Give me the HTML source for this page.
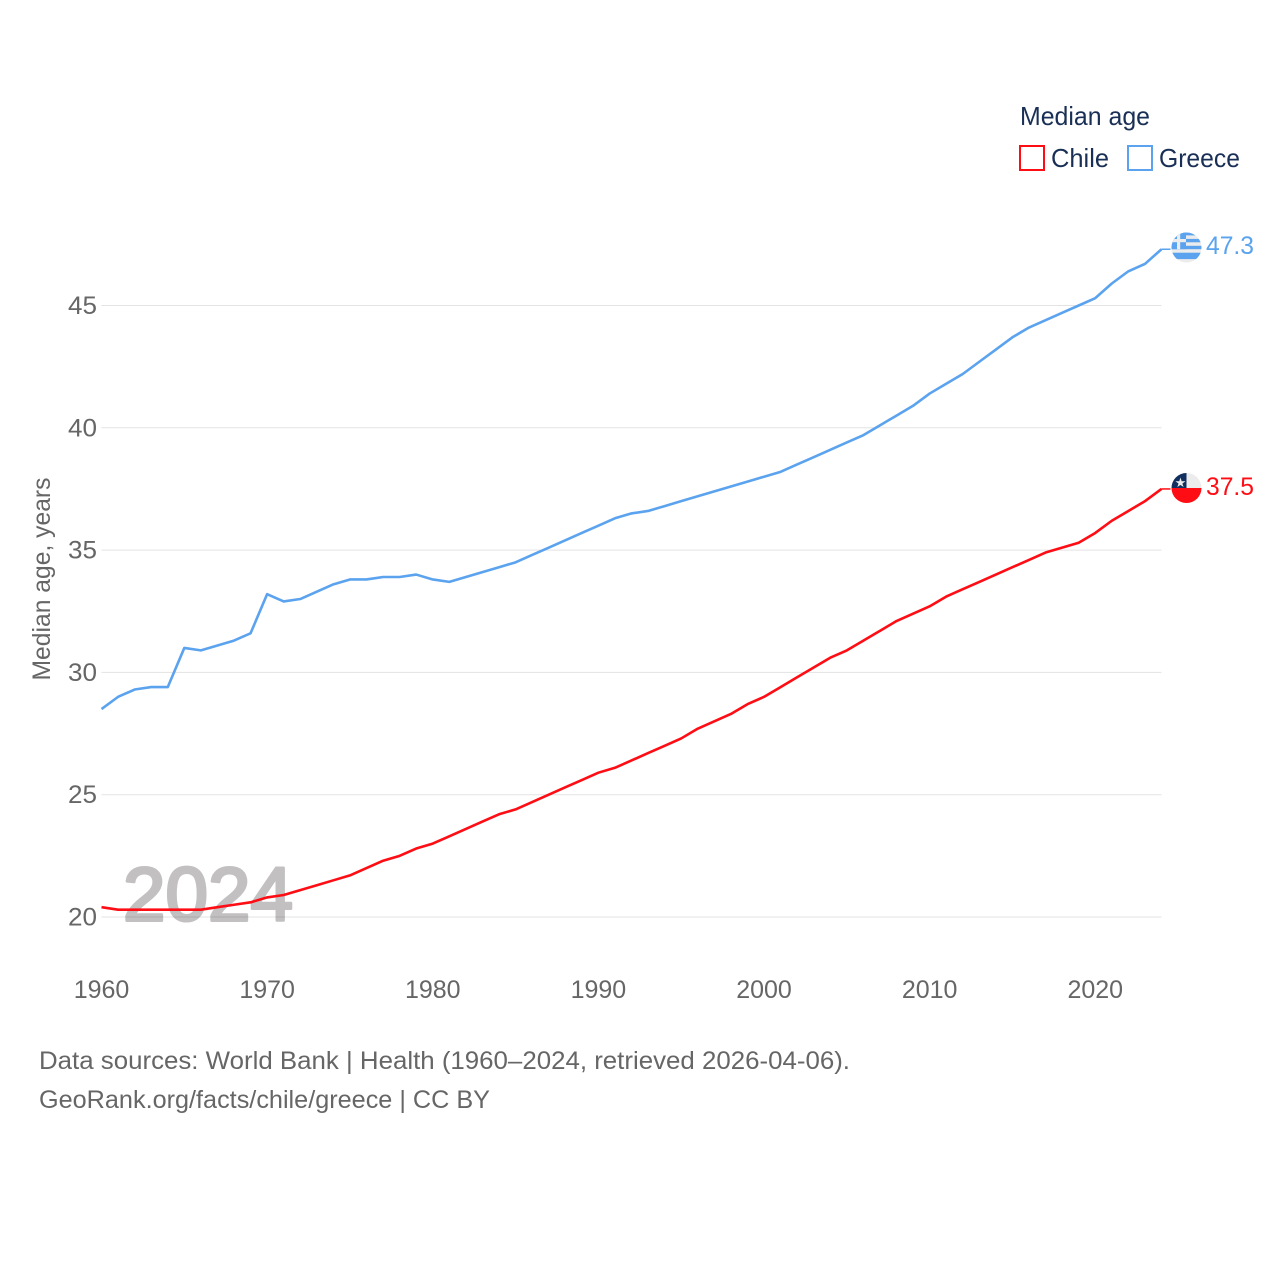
<!DOCTYPE html>
<html lang="en">
<head>
<meta charset="utf-8">
<title>Median age: Chile and Greece</title>
<style>
html,body{margin:0;padding:0;background:#fff;}
svg{display:block;}
text{font-family:"Liberation Sans",sans-serif;}
</style>
</head>
<body>
<svg id="chart" xmlns="http://www.w3.org/2000/svg" width="1280" height="1280" viewBox="0 0 1280 1280">
  <defs>
    <clipPath id="greece-clip"><circle cx="1186.5" cy="247.5" r="15"/></clipPath>
    <clipPath id="chile-clip"><circle cx="1186.5" cy="488" r="15"/></clipPath>
  </defs>
  <text x="123" y="920.5" font-size="76" fill="#c2c0c0" stroke="#c2c0c0" stroke-width="3" stroke-linejoin="round" textLength="170" lengthAdjust="spacingAndGlyphs">2024</text>
  <g id="grid"></g>
  <g id="y-ticks"></g>
  <g id="x-ticks"></g>
  <text transform="translate(50,579) rotate(-90)" text-anchor="middle" font-size="25" fill="#666" textLength="203" lengthAdjust="spacingAndGlyphs">Median age, years</text>
  <g id="series"></g>

  <g>
    <text x="1020" y="125" font-size="26" fill="#1a2f55" textLength="130" lengthAdjust="spacingAndGlyphs">Median age</text>
    <rect x="1020" y="146" width="24" height="24" fill="none" stroke="#ff0d14" stroke-width="2"/>
    <text x="1051" y="167" font-size="26" fill="#1a2f55" textLength="58" lengthAdjust="spacingAndGlyphs">Chile</text>
    <rect x="1128" y="146" width="24" height="24" fill="none" stroke="#5ba3ee" stroke-width="2"/>
    <text x="1159" y="167" font-size="26" fill="#1a2f55" textLength="81" lengthAdjust="spacingAndGlyphs">Greece</text>
  </g>

  <g clip-path="url(#greece-clip)">
    <rect x="1171" y="232" width="31" height="31" fill="#ececec"/>
    <rect x="1171" y="232" width="31" height="3.4" fill="#5ba3ee"/>
    <rect x="1171" y="238.9" width="31" height="3.4" fill="#5ba3ee"/>
    <rect x="1171" y="245.8" width="31" height="3.4" fill="#5ba3ee"/>
    <rect x="1171" y="252.7" width="31" height="6.4" fill="#5ba3ee"/>
    <rect x="1171" y="232" width="15" height="17.2" fill="#5ba3ee"/>
    <rect x="1171" y="239" width="15" height="3.2" fill="#ececec"/>
    <rect x="1177" y="232" width="3.2" height="17.2" fill="#ececec"/>
  </g>
  <text x="1206" y="254" font-size="25" fill="#5ba3ee" textLength="48" lengthAdjust="spacingAndGlyphs">47.3</text>

  <g clip-path="url(#chile-clip)">
    <rect x="1171" y="473" width="31" height="15" fill="#ececec"/>
    <rect x="1171" y="473" width="15.5" height="15" fill="#12305f"/>
    <rect x="1171" y="488" width="31" height="15" fill="#ff0d14"/>
    <text x="1180.5" y="487" text-anchor="middle" font-size="13" fill="#ececec" font-family="DejaVu Sans, sans-serif">★</text>
  </g>
  <text x="1206" y="495" font-size="25" fill="#ff0d14" textLength="48" lengthAdjust="spacingAndGlyphs">37.5</text>

  <text x="39" y="1069" font-size="25" fill="#666" textLength="811" lengthAdjust="spacingAndGlyphs">Data sources: World Bank | Health (1960–2024, retrieved 2026-04-06).</text>
  <text x="39" y="1108" font-size="25" fill="#666" textLength="451" lengthAdjust="spacingAndGlyphs">GeoRank.org/facts/chile/greece | CC BY</text>
</svg>
<script>
const startYear = 1960;
const endYear = 2024;
const yTickValues = [20, 25, 30, 35, 40, 45];
const xTickValues = [1960, 1970, 1980, 1990, 2000, 2010, 2020];
const chileValues = [20.4,20.3,20.3,20.3,20.3,20.3,20.3,20.4,20.5,20.6,20.8,20.9,21.1,21.3,21.5,21.7,22.0,22.3,22.5,22.8,23.0,23.3,23.6,23.9,24.2,24.4,24.7,25.0,25.3,25.6,25.9,26.1,26.4,26.7,27.0,27.3,27.7,28.0,28.3,28.7,29.0,29.4,29.8,30.2,30.6,30.9,31.3,31.7,32.1,32.4,32.7,33.1,33.4,33.7,34.0,34.3,34.6,34.9,35.1,35.3,35.7,36.2,36.6,37.0,37.5];
const greeceValues = [28.5,29.0,29.3,29.4,29.4,31.0,30.9,31.1,31.3,31.6,33.2,32.9,33.0,33.3,33.6,33.8,33.8,33.9,33.9,34.0,33.8,33.7,33.9,34.1,34.3,34.5,34.8,35.1,35.4,35.7,36.0,36.3,36.5,36.6,36.8,37.0,37.2,37.4,37.6,37.8,38.0,38.2,38.5,38.8,39.1,39.4,39.7,40.1,40.5,40.9,41.4,41.8,42.2,42.7,43.2,43.7,44.1,44.4,44.7,45.0,45.3,45.9,46.4,46.7,47.3];

const NS = 'http://www.w3.org/2000/svg';
const plotLeft = 101.5, plotRight = 1161.5;
function xScale(year) { return plotLeft + (year - startYear) * (plotRight - plotLeft) / (endYear - startYear); }
function yScale(v) { return 917 - (v - 20) * 24.46; }

const grid = document.getElementById('grid');
const yTicks = document.getElementById('y-ticks');
const xTicks = document.getElementById('x-ticks');
const series = document.getElementById('series');

yTickValues.forEach(function (v) {
  const line = document.createElementNS(NS, 'line');
  
  
  line.setAttribute('x1', plotLeft);
  line.setAttribute('x2', plotRight);
  line.setAttribute('y1', yScale(v));
  line.setAttribute('y2', yScale(v));
  line.setAttribute('stroke', '#000');
  line.setAttribute('stroke-opacity', '0.11');
  line.setAttribute('stroke-width', '1');
  grid.appendChild(line);

  const label = document.createElementNS(NS, 'text');
  
  
  label.setAttribute('x', 68);
  label.setAttribute('y', yScale(v) + 8.5);
  label.setAttribute('font-size', '25');
  label.setAttribute('fill', '#666');
  label.setAttribute('textLength', '29');
  label.setAttribute('lengthAdjust', 'spacingAndGlyphs');
  label.textContent = v;
  yTicks.appendChild(label);
});

xTickValues.forEach(function (year) {
  const label = document.createElementNS(NS, 'text');
  
  
  label.setAttribute('x', xScale(year));
  label.setAttribute('y', 998);
  label.setAttribute('text-anchor', 'middle');
  label.setAttribute('font-size', '25');
  label.setAttribute('fill', '#666');
  label.textContent = year;
  xTicks.appendChild(label);
});

function drawSeries(values, color, name) {
  const pts = values.map(function (v, i) {
    return xScale(startYear + i).toFixed(2) + ',' + yScale(v).toFixed(2);
  });
  const last = values[values.length - 1];
  const connector = document.createElementNS(NS, 'line');
  
  
  connector.setAttribute('x1', xScale(endYear));
  connector.setAttribute('x2', xScale(endYear) + 9);
  connector.setAttribute('y1', yScale(last));
  connector.setAttribute('y2', yScale(last));
  connector.setAttribute('stroke', color);
  connector.setAttribute('stroke-width', '1.5');
  series.appendChild(connector);

  const line = document.createElementNS(NS, 'polyline');
  
  
  line.setAttribute('points', pts.join(' '));
  line.setAttribute('fill', 'none');
  line.setAttribute('stroke', color);
  line.setAttribute('stroke-width', '2.6');
  line.setAttribute('stroke-linejoin', 'round');
  series.appendChild(line);
}
drawSeries(greeceValues, '#5ba3ee', 'greece-line');
drawSeries(chileValues, '#ff0d14', 'chile-line');
</script>
</body>
</html>
